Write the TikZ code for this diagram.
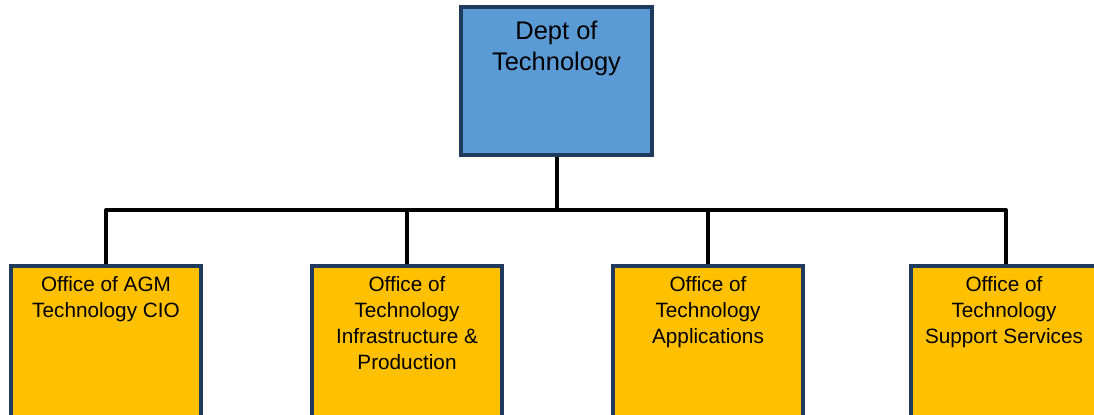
\documentclass[tikz,border=0pt]{standalone}
\usepackage{fontspec}
\setmainfont{Liberation Sans}
\usetikzlibrary{positioning}
\definecolor{deptblue}{HTML}{5B9BD5}
\definecolor{officegold}{HTML}{FFC000}
\definecolor{edgenavy}{HTML}{1F3A5C}

\begin{document}
\begin{tikzpicture}[
    x=0.02cm, y=-0.02cm,
    topbox/.style={draw=edgenavy, line width=0.075cm, fill=deptblue,
      minimum width=3.82cm, minimum height=2.96cm},
    officebox/.style={draw=edgenavy, line width=0.075cm, fill=officegold,
      minimum width=3.80cm, minimum height=3.2cm},
    toptext/.style={anchor=north, align=center, inner sep=0pt,
      font=\fontsize{14.5}{17.6}\selectfont},
    officetext/.style={anchor=north, align=center, inner sep=0pt,
      font=\fontsize{11.8}{14.8}\selectfont},
    link/.style={line width=0.08cm, line join=round},
  ]

  % Frame of the picture
  \useasboundingbox (0,0) rectangle (1094,414);
  \clip (0,0) rectangle (1094,414);

  % Top: department
  \node[topbox] (dept) at (556.5,81) {};
  \node[toptext, below=0.31cm of dept.north] (dept-text)
    {Dept of\\Technology};

  % Bottom row: offices
  \node[officebox] (cio) at (106,346) {};
  \node[officebox] (infra) at (407,346) {};
  \node[officebox] (apps) at (708,346) {};
  \node[officebox] (support) at (1006,346) {};

  \node[officetext, below=0.23cm of cio.north] (cio-text)
    {Office of AGM\\Technology CIO};
  \node[officetext, below=0.23cm of infra.north] (infra-text)
    {Office of\\Technology\\Infrastructure \&\\Production};
  \node[officetext, below=0.23cm of apps.north] (apps-text)
    {Office of\\Technology\\Applications};
  \node[officetext, below=0.23cm of support.north, xshift=-0.04cm]
    (support-text) {Office of\\Technology\\Support Services};

  % Connectors
  \coordinate (bus) at (556.5,210);
  \draw[link] (dept.south) -- (bus);
  \foreach \o in {cio,infra,apps,support} {
    \draw[link] (\o.north) |- (bus);
  }

\end{tikzpicture}
\end{document}
